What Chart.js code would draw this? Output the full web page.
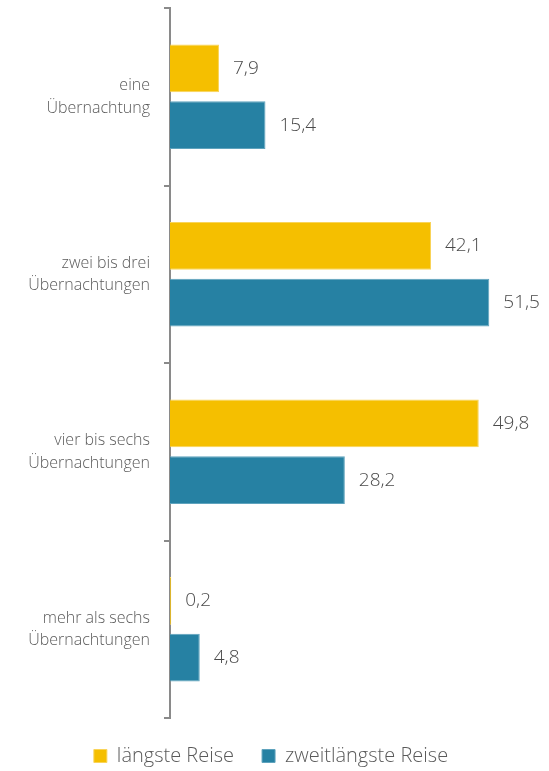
<!DOCTYPE html>
<html>
<head>
<meta charset="utf-8">
<script src="https://cdn.jsdelivr.net/npm/chart.js@4"></script>
<style>
  html, body { margin: 0; padding: 0; background: #fff; }
  #wrap { width: 549px; height: 771px; position: relative; }
</style>
</head>
<body>
<div id="wrap"><canvas id="chart"></canvas></div>
<script>
// --- data ---
const categories = [
    ["eine", "Übernachtung"],
    ["zwei bis drei", "Übernachtungen"],
    ["vier bis sechs", "Übernachtungen"],
    ["mehr als sechs", "Übernachtungen"]
];
const seriesNames = ["längste Reise", "zweitlängste Reise"];
const longestTrip = [7.9, 42.1, 49.8, 0.2];
const secondTrip = [15.4, 51.5, 28.2, 4.8];

const yellow = '#f5bf00';
const teal = '#2681a3';

// value labels at the end of each bar
const valueLabels = {
    id: 'valueLabels',
    afterDatasetsDraw(chart) {
        const ctx = chart.ctx;
        ctx.save();
        ctx.font = '300 19px "Open Sans"';
        ctx.fillStyle = '#4a4a4a';
        ctx.textBaseline = 'middle';
        ctx.textAlign = 'left';
        chart.data.datasets.forEach((ds, i) => {
            chart.getDatasetMeta(i).data.forEach((bar, j) => {
                const txt = ds.data[j].toLocaleString('de-DE', { minimumFractionDigits: 1 });
                ctx.fillText(txt, bar.x + 14, bar.y);
            });
        });
        ctx.restore();
    }
};

new Chart(document.getElementById('chart'), {
    type: 'bar',
    data: {
        labels: categories,
        datasets: [
            { label: seriesNames[0], data: longestTrip, backgroundColor: yellow, borderColor: '#f9d45a', borderWidth: 1 },
            { label: seriesNames[1], data: secondTrip, backgroundColor: teal, borderColor: '#5fa3bd', borderWidth: 1 }
        ]
    },
    options: {
        indexAxis: 'y',
        responsive: true,
        maintainAspectRatio: false,
        animation: false,
        categoryPercentage: 0.64,
        barPercentage: 0.84,
        layout: { padding: { top: 8, right: 7, bottom: -5 } },
        scales: {
            x: { display: false, min: 0, max: 60 },
            y: {
                afterFit(scale) {
                    scale.width = 170;
                    scale.paddingTop = 0;
                    scale.paddingBottom = 0;
                },
                border: { display: true, color: '#8a8a8a', width: 2 },
                grid: { drawOnChartArea: false, offset: true, tickLength: 6, color: '#8a8a8a', lineWidth: 2 },
                ticks: { padding: 14, color: '#5a5a5a', font: { family: '"Open Sans"', size: 16, weight: '300', lineHeight: 1.4 } }
            }
        },
        plugins: {
            legend: {
                position: 'bottom',
                labels: {
                    boxWidth: 13,
                    boxHeight: 13,
                    padding: 28,
                    color: '#5a5a5a',
                    font: { family: '"Open Sans"', size: 20, weight: '300' }
                }
            },
            tooltip: { enabled: false }
        }
    },
    plugins: [valueLabels]
});
</script>
</body>
</html>
